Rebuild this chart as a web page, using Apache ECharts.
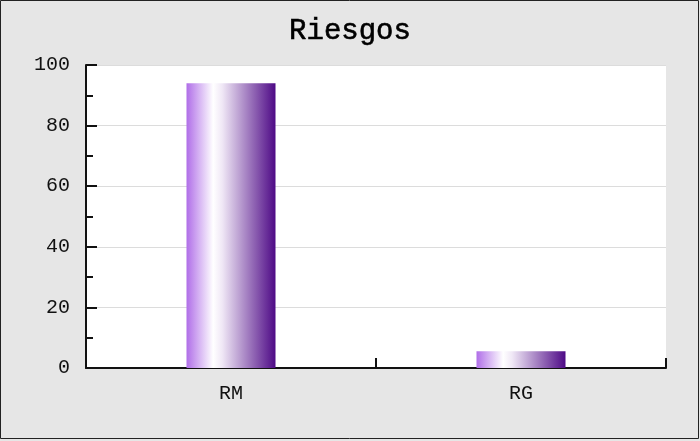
<!DOCTYPE html>
<html><head><meta charset="utf-8">
<script src="https://cdn.jsdelivr.net/npm/echarts@6/dist/echarts.min.js"></script>
<style>html,body{margin:0;padding:0;background:#e6e6e6}#c{width:700px;height:441px}</style>
</head><body><div id="c"></div>
<script>
const categories = ['RM', 'RG'];
const values = [94, 5.5];
const yTicks = [0, 20, 40, 60, 80, 100];

const chart = echarts.init(document.getElementById('c'));
const font = 'Liberation Mono';
chart.setOption({
  backgroundColor: '#e6e6e6',
  animation: false,
  title: {
    text: 'Riesgos', left: 'center', top: 12,
    textStyle: { fontFamily: font, fontSize: 29, fontWeight: 'normal', color: '#000',
      textBorderColor: '#000', textBorderWidth: 0.6 }
  },
  graphic: [{
    type: 'rect', silent: true, z: 100,
    shape: { x: 0.5, y: 0.5, width: 698, height: 438 },
    style: { fill: 'none', stroke: '#222', lineWidth: 1 }
  }],
  grid: { left: 86, right: 34, top: 65, bottom: 73, show: true, backgroundColor: '#ffffff', borderWidth: 0 },
  xAxis: {
    type: 'category', data: categories, boundaryGap: true,
    axisLine: { lineStyle: { color: '#111', width: 2 } },
    axisTick: { show: true, inside: true, length: 10, alignWithLabel: false, lineStyle: { color: '#111', width: 2 } },
    axisLabel: { fontFamily: font, fontSize: 20, color: '#111', margin: 16 },
    splitLine: { show: false }
  },
  yAxis: {
    type: 'value', min: yTicks[0], max: yTicks[yTicks.length - 1], interval: 20,
    axisLine: { show: true, lineStyle: { color: '#111', width: 2 } },
    axisTick: { show: true, inside: true, length: 11, lineStyle: { color: '#111', width: 2 } },
    minorTick: { show: true, splitNumber: 2, length: 7, lineStyle: { color: '#111', width: 2 } },
    axisLabel: { fontFamily: font, fontSize: 20, color: '#111', margin: 16 },
    splitLine: { show: true, lineStyle: { color: '#dcdcdc', width: 1 } }
  },
  series: [{
    type: 'bar', data: values, barWidth: 89,
    itemStyle: {
      color: new echarts.graphic.LinearGradient(0, 0, 1, 0, [
        { offset: 0, color: '#b06ee8' },
        { offset: 0.3, color: '#ffffff' },
        { offset: 0.4, color: '#f0e8f6' },
        { offset: 1, color: '#4e0a86' }
      ])
    }
  }]
});
</script></body></html>
